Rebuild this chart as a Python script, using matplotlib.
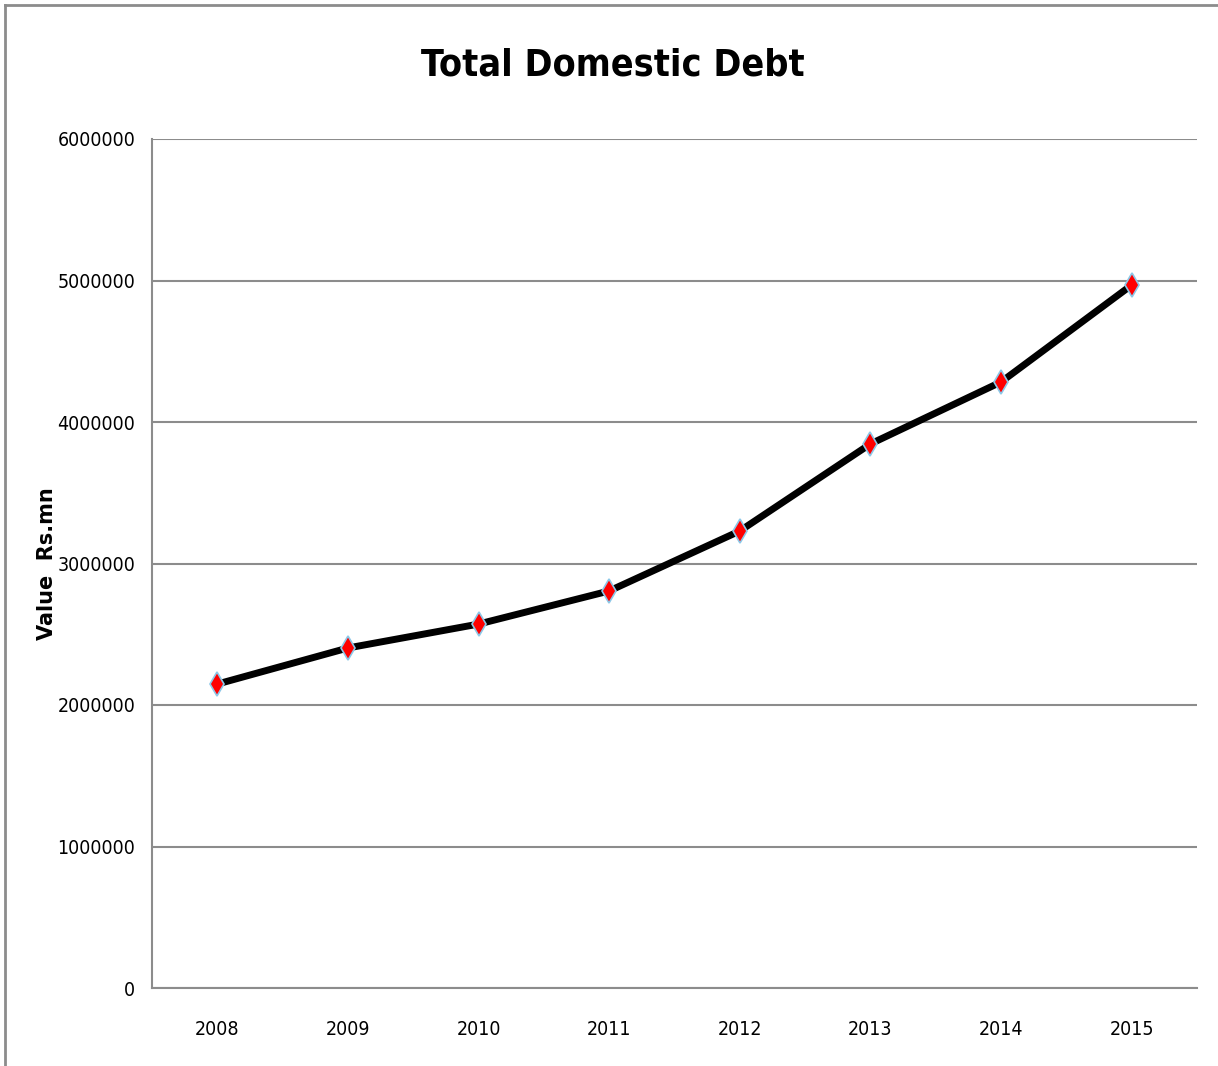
import matplotlib
matplotlib.use("Agg")
import matplotlib.pyplot as plt
from matplotlib.lines import Line2D

years = ["2008", "2009", "2010", "2011", "2012", "2013", "2014", "2015"]
debt = [2148000, 2403000, 2572000, 2806000, 3230000, 3845000, 4283000, 4968000]
y_ticks = [0, 1000000, 2000000, 3000000, 4000000, 5000000, 6000000]

fig = plt.figure(figsize=(12.18, 10.66), dpi=100)
ax = fig.add_axes([152 / 1218, 1 - 988 / 1066, 1045 / 1218, 849 / 1066])

x = list(range(len(years)))
ax.plot(x, debt, color="black", linewidth=5, solid_capstyle="round", zorder=3)
ax.plot(x, debt, linestyle="none", marker="d", markersize=12,
        markerfacecolor="#ff0000", markeredgecolor="#8cc8e8",
        markeredgewidth=1.2, zorder=4)

ax.set_xlim(-0.5, len(years) - 0.5)
ax.set_ylim(0, 6000000)
ax.set_yticks(y_ticks)
ax.set_yticklabels([str(v) for v in y_ticks], fontfamily="DejaVu Sans",
                   fontstretch="condensed", fontsize=14)
ax.set_xticks(x)
ax.set_xticklabels(years, fontfamily="DejaVu Sans", fontstretch="condensed",
                   fontsize=14)
ax.tick_params(axis="both", length=0)
ax.tick_params(axis="y", pad=12)
ax.tick_params(axis="x", pad=23)

ax.grid(axis="y", color="#8c8c8c", linewidth=1.5, zorder=1)
ax.set_axisbelow(True)
for s in ("top", "right"):
    ax.spines[s].set_visible(False)
for s in ("left", "bottom"):
    ax.spines[s].set_color("#8c8c8c")
    ax.spines[s].set_linewidth(1.5)

ax.set_ylabel("Value  Rs.mn", fontsize=15, fontweight="heavy",
              fontfamily="DejaVu Sans")
ax.yaxis.set_label_coords(-95 / 1045, 0.5)

fig.text(613 / 1218, 1 - 66 / 1066, "Total Domestic Debt",
         ha="center", va="center", fontsize=27, fontweight="bold",
         fontfamily="DejaVu Sans", fontstretch="condensed")

# Frame lines along the top and left edges of the figure
fig.add_artist(Line2D([5 / 1218, 1], [1 - 5 / 1066, 1 - 5 / 1066],
                      color="#8c8c8c", linewidth=2, transform=fig.transFigure))
fig.add_artist(Line2D([5 / 1218, 5 / 1218], [0, 1 - 5 / 1066],
                      color="#8c8c8c", linewidth=2, transform=fig.transFigure))

fig.savefig("out.png", dpi=100, facecolor="white")
